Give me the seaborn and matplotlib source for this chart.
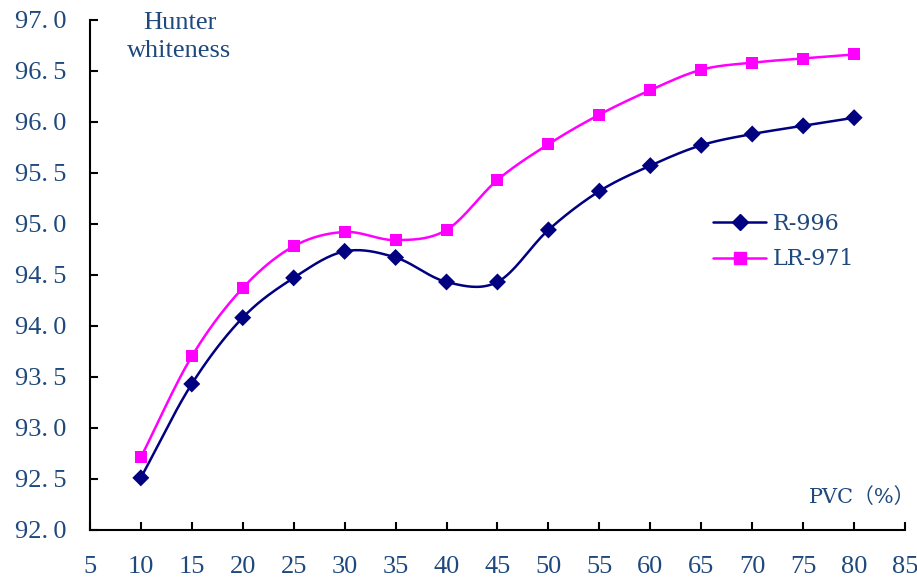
import numpy as np
import pandas as pd
import matplotlib
matplotlib.use("Agg")
import matplotlib.pyplot as plt
from matplotlib.lines import Line2D
import seaborn as sns

sns.set_style("ticks")
plt.rcParams["font.family"] = ["Liberation Serif", "DejaVu Serif"]

pvc = [10, 15, 20, 25, 30, 35, 40, 45, 50, 55, 60, 65, 70, 75, 80]
r996 = [92.51, 93.43, 94.08, 94.47, 94.73, 94.67, 94.43, 94.43, 94.94,
        95.32, 95.57, 95.77, 95.88, 95.96, 96.04]
lr971 = [92.71, 93.70, 94.37, 94.78, 94.92, 94.84, 94.94, 95.43, 95.78,
         96.07, 96.31, 96.51, 96.58, 96.62, 96.66]
series_names = ["R-996", "LR-971"]
x_ticks = list(range(5, 90, 5))
y_ticks = [92.0, 92.5, 93.0, 93.5, 94.0, 94.5, 95.0, 95.5, 96.0, 96.5, 97.0]

text_color = "#1F497D"
colors = {"R-996": "#000080", "LR-971": "#FF00FF"}
markers = {"R-996": "D", "LR-971": "s"}


def smooth(x, y, n=20):
    # Catmull-Rom style smoothing, similar to a spreadsheet "smoothed line"
    x = np.asarray(x, float)
    y = np.asarray(y, float)
    px = np.concatenate([[2 * x[0] - x[1]], x, [2 * x[-1] - x[-2]]])
    py = np.concatenate([[2 * y[0] - y[1]], y, [2 * y[-1] - y[-2]]])
    xs, ys = [], []
    t = np.linspace(0, 1, n, endpoint=False)
    for i in range(1, len(px) - 2):
        for arr, out in ((px, xs), (py, ys)):
            p0, p1, p2, p3 = arr[i - 1], arr[i], arr[i + 1], arr[i + 2]
            c1 = p1 + (p2 - p0) / 6
            c2 = p2 - (p3 - p1) / 6
            out.extend((1 - t) ** 3 * p1 + 3 * (1 - t) ** 2 * t * c1
                       + 3 * (1 - t) * t ** 2 * c2 + t ** 3 * p2)
    xs.append(x[-1])
    ys.append(y[-1])
    return np.array(xs), np.array(ys)


pts = pd.DataFrame({
    "PVC": pvc * 2,
    "value": r996 + lr971,
    "series": [series_names[0]] * len(pvc) + [series_names[1]] * len(pvc),
})
curves = []
for name, vals in zip(series_names, [r996, lr971]):
    sx, sy = smooth(pvc, vals)
    curves.append(pd.DataFrame({"PVC": sx, "value": sy, "series": name}))
curves = pd.concat(curves, ignore_index=True)

fig = plt.figure(figsize=(9.17, 5.81), dpi=100)
ax = fig.add_axes([0.098, 0.088, 0.889, 0.878])

sns.lineplot(data=curves, x="PVC", y="value", hue="series", palette=colors,
             linewidth=1.8, ax=ax, legend=False, sort=False, estimator=None)
sns.scatterplot(data=pts, x="PVC", y="value", hue="series", style="series",
                palette=colors, markers=markers, s=75, edgecolor="none",
                ax=ax, legend=False, zorder=3)

handles = [Line2D([], [], color=colors[n], marker=markers[n], markersize=8,
                  linewidth=1.8) for n in series_names]
leg = ax.legend(handles, series_names, loc="center left",
                bbox_to_anchor=(0.74, 0.565), frameon=False,
                prop={"family": "DejaVu Serif", "size": 16},
                handlelength=2.4, labelspacing=0.6, handletextpad=0.3)
for t in leg.get_texts():
    t.set_color(text_color)

ax.set_xlim(5, 85)
ax.set_ylim(92.0, 97.0)
ax.set_xticks(x_ticks)
ax.set_yticks(y_ticks)
ax.set_yticklabels([f"{v:.1f}".replace(".", ".\u2009") for v in y_ticks])
ax.tick_params(axis="both", direction="in", length=6, width=1.5,
               labelsize=19, labelcolor=text_color, colors="black")
ax.tick_params(axis="x", pad=19)
ax.tick_params(axis="y", pad=17)
for side in ["top", "right"]:
    ax.spines[side].set_visible(False)
for side in ["left", "bottom"]:
    ax.spines[side].set_linewidth(1.5)
    ax.spines[side].set_color("black")
ax.set_xlabel("")
ax.set_ylabel("")

ax.text(0.11, 0.966, "Hunter\nwhiteness", transform=ax.transAxes,
        ha="center", va="center", fontsize=19, color=text_color,
        linespacing=1.4)
ax.text(1.013, 0.065, "PVC\uff08%\uff09", transform=ax.transAxes,
        ha="right", va="center", fontsize=15, color=text_color,
        family=["DejaVu Serif", "Noto Sans CJK SC"])

fig.savefig("out.png", dpi=100)
